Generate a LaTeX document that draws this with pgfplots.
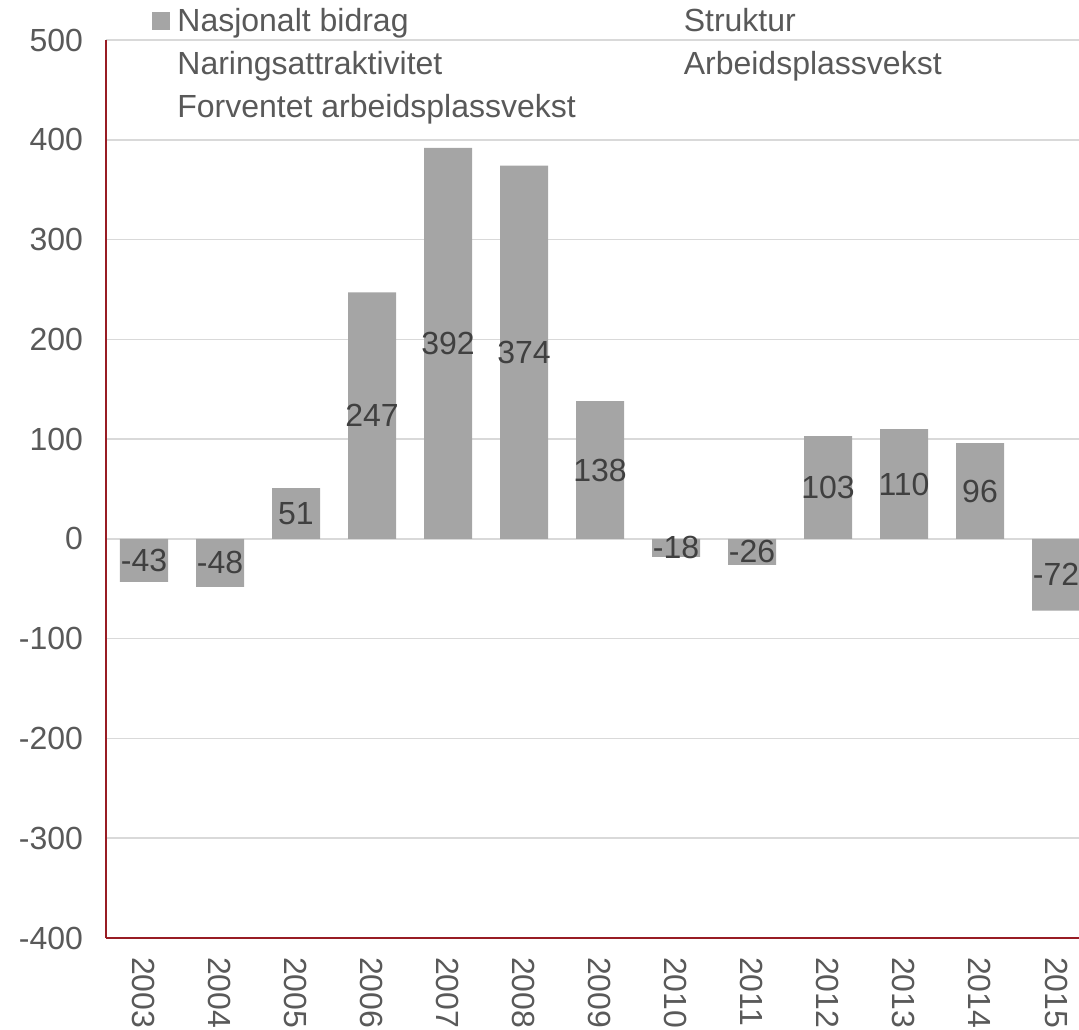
\documentclass[border=0pt]{standalone}
\usepackage{fontspec}
\setmainfont{Liberation Sans}
\usepackage{pgfplots}
\usepackage{pgfplotstable}
\pgfplotsset{compat=1.18}
\definecolor{barg}{HTML}{A5A5A5}
\definecolor{txt}{HTML}{595959}
\definecolor{lab}{HTML}{404040}
\definecolor{gridc}{HTML}{D9D9D9}
\definecolor{axred}{RGB}{152,28,36}
\pgfplotstableread{
x v
0 -43
1 -48
2 51
3 247
4 392
5 374
6 138
7 -18
8 -26
9 103
10 110
11 96
12 -72
}\datatable
\begin{document}
\begin{tikzpicture}
\begin{axis}[
  scale only axis, width=494pt, height=449pt,
  xmin=-0.5, xmax=12.5, ymin=-400, ymax=500,
  ytick={-400,-300,...,500},
  xtick={0,...,12},
  xticklabels={2003,2004,2005,2006,2007,2008,2009,2010,2011,2012,2013,2014,2015},
  ymajorgrids, grid style={gridc, line width=0.75pt},
  axis lines*=left,
  axis line style={axred, line width=1pt},
  major tick length=0pt,
  tick label style={font=\fontsize{16}{19}\selectfont, text=txt},
  yticklabel style={xshift=-8pt},
  xticklabel style={rotate=-90, anchor=west, xshift=6pt},
  /pgf/number format/assume math mode=true,
  legend columns=2,
  legend cell align=left,
  legend style={draw=none, fill=none, at={(rel axis cs:0,1)}, anchor=north west,
    xshift=23pt, yshift=16pt, inner sep=0pt, row sep=6.5pt,
    font=\fontsize{16}{19}\selectfont, text=txt,
    nodes={inner sep=0pt, text height=11.5pt, text depth=3.5pt},
    /tikz/every odd column/.append style={column sep=3.5pt},
    /tikz/every even column/.append style={column sep=50.5pt}},
  legend image code/.code={\path (0,-4.5pt) rectangle (9pt,4.5pt);},
]
\addplot[ybar, bar width=24pt, fill=barg, draw=none,
  legend image code/.code={\fill[barg] (0,-3.5pt) rectangle (9pt,5.5pt);}]
  table[x=x, y=v] {\datatable};
\addlegendentry{Nasjonalt bidrag}
\addlegendimage{empty legend}
\addlegendentry{Struktur}
\addlegendimage{empty legend}
\addlegendentry{Naringsattraktivitet}
\addlegendimage{empty legend}
\addlegendentry{Arbeidsplassvekst}
\addlegendimage{empty legend}
\addlegendentry{Forventet arbeidsplassvekst}
\addplot[draw=none, mark=none, forget plot, nodes near coords, point meta=explicit,
  every node near coord/.append style={anchor=center, font=\fontsize{16}{19}\selectfont, text=lab}]
  table[x=x, y expr=\thisrow{v}/2, meta=v] {\datatable};
\end{axis}
\pgfresetboundingbox
\path ([xshift=-53pt,yshift=-45.5pt]current axis.south west) rectangle ([xshift=486.5pt,yshift=20pt]current axis.north west);
\end{tikzpicture}
\end{document}
